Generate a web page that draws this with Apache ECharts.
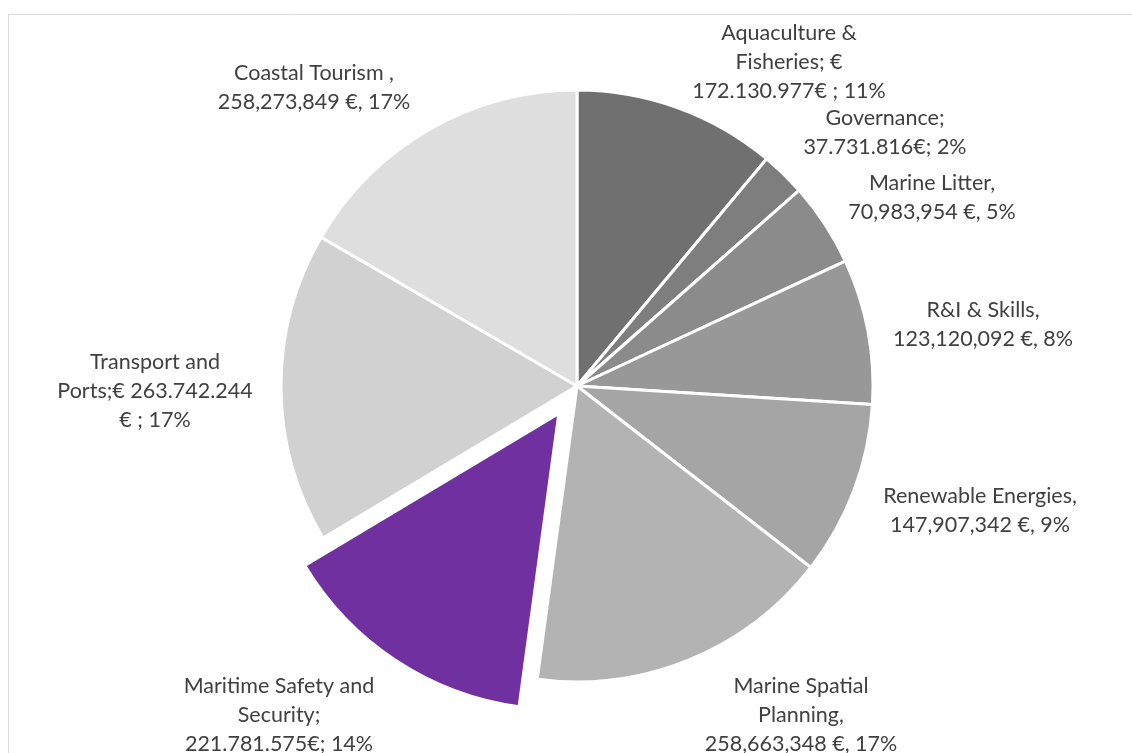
<!DOCTYPE html>
<html><head><meta charset="utf-8">
<script src="https://cdn.jsdelivr.net/npm/echarts@6/dist/echarts.min.js"></script>
<style>html,body{margin:0;padding:0;background:#fff}#c{width:1132px;height:753px}</style>
</head><body><div id="c"></div>
<script>
const categories = ['Aquaculture & Fisheries','Governance','Marine Litter','R&I & Skills','Renewable Energies','Marine Spatial Planning','Maritime Safety and Security','Transport and Ports','Coastal Tourism'];
const values = [172130977, 37731816, 70983954, 123120092, 147907342, 258663348, 221781575, 263742244, 258273849];
const labelTexts = [
  'Aquaculture &\nFisheries; €\n172.130.977€ ; 11%',
  'Governance;\n37.731.816€; 2%',
  'Marine Litter,\n70,983,954 €, 5%',
  'R&I & Skills,\n123,120,092 €, 8%',
  'Renewable Energies,\n147,907,342 €, 9%',
  'Marine Spatial\nPlanning,\n258,663,348 €, 17%',
  'Maritime Safety and\nSecurity;\n221.781.575€; 14%',
  'Transport and\nPorts;€ 263.742.244\n€ ; 17%',
  'Coastal Tourism ,\n258,273,849 €, 17%'
];
const colors = ['#707070','#7e7e7e','#8b8b8b','#989898','#a5a5a5','#b3b3b3','#7030a0','#d1d1d1','#dedede'];
const explodedIndex = 6;
// label block centres (layout)
const labelCenters = [[789,62],[885,133],[932,198],[983,325],[980,511],[801,715],[279,715],[155,391],[314,88]];

const CX = 577, CY = 386, R = 296, EXPLODE = 33;
const total = values.reduce((a,b)=>a+b,0);
const before = values.slice(0, explodedIndex).reduce((a,b)=>a+b,0);
const midA = 2*Math.PI*(before + values[explodedIndex]/2)/total;
const ex = CX + EXPLODE*Math.sin(midA), ey = CY - EXPLODE*Math.cos(midA);
const clear = 'rgba(0,0,0,0)';

const chart = echarts.init(document.getElementById('c'), null, {renderer:'canvas'});
chart.setOption({
  animation:false,
  backgroundColor:'#fff',
  graphic:[{type:'rect', shape:{x:8.5,y:14.5,width:1300,height:900}, style:{fill:null, stroke:'#d9d9d9', lineWidth:1}, silent:true, z:-1}],
  series:[{
    type:'pie',
    center:[CX,CY],
    radius:[0,R],
    startAngle:90,
    clockwise:true,
    avoidLabelOverlap:false,
    itemStyle:{borderColor:'#fff', borderWidth:3},
    label:{show:true, position:'outside', color:'#404040', fontFamily:'Lato', fontSize:21.5, lineHeight:29, align:'center',
      formatter:p=>labelTexts[p.dataIndex]},
    labelLine:{show:false},
    labelLayout:function(p){const c=labelCenters[p.dataIndex];return {x:c[0],y:c[1],align:'center',verticalAlign:'middle',hideOverlap:false};},
    emphasis:{disabled:true},
    data:categories.map((n,i)=>({name:n,value:values[i],
      itemStyle: i===explodedIndex ? {color:clear, borderWidth:0} : {color:colors[i]}}))
  },{
    type:'pie',
    center:[ex,ey],
    radius:[0,R],
    startAngle:90,
    clockwise:true,
    silent:true,
    label:{show:false},
    labelLine:{show:false},
    emphasis:{disabled:true},
    data:categories.map((n,i)=>({name:n,value:values[i],
      itemStyle: i===explodedIndex ? {color:colors[i], borderColor:'#fff', borderWidth:3} : {color:clear, borderWidth:0}}))
  }]
});
</script></body></html>
